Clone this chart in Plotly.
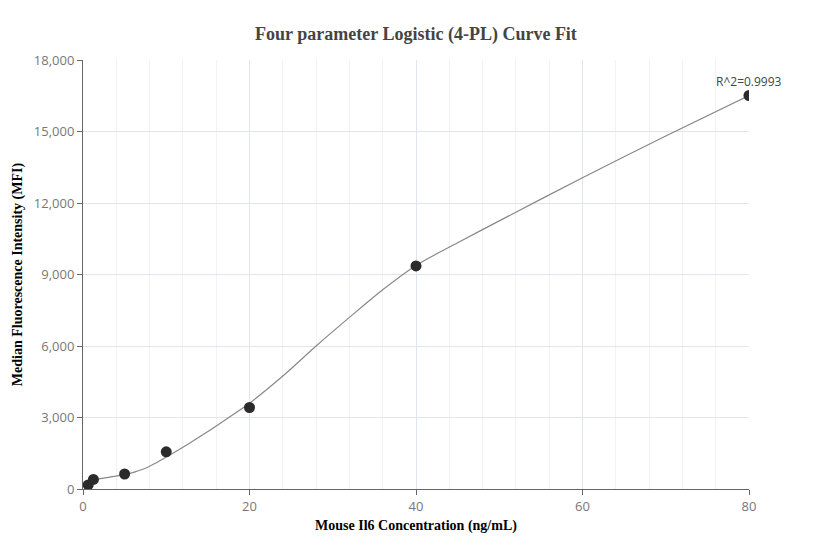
import plotly.graph_objs as go

# Measured standards
conc = [0.625, 1.25, 5, 10, 20, 40, 80]
mfi = [170, 400, 630, 1560, 3420, 9360, 16510]

# Fitted 4-PL curve
curve_x = [0.625, 1.25, 2.5, 5, 6.25, 7.5, 8.75, 10, 12.5, 15, 17.5, 20, 24, 28, 32, 36, 40, 45, 50, 60, 70, 80]
curve_y = [330, 380, 460, 600, 720, 870, 1090, 1340, 1860, 2410, 3000, 3600, 4740, 6000, 7200, 8360, 9380, 10330, 11250, 13060, 14810, 16510]

r2_text = "R^2=0.9993"
title_text = "Four parameter Logistic (4-PL) Curve Fit"
x_title = "Mouse Il6 Concentration (ng/mL)"
y_title = "Median Fluorescence Intensity (MFI)"

fig = go.Figure()

# fitted curve
fig.add_trace(go.Scatter(
    x=curve_x, y=curve_y,
    mode='lines',
    line=dict(color='#888888', width=1.2, shape='spline', smoothing=0.8),
    hoverinfo='skip',
    showlegend=False
))

# data points
fig.add_trace(go.Scatter(
    x=conc, y=mfi,
    mode='markers',
    marker=dict(size=11, color='#2b2b2b'),
    showlegend=False
))

fig.add_annotation(
    x=conc[-1], y=mfi[-1],
    text=r2_text,
    showarrow=False,
    yshift=14,
    font=dict(family='Open Sans', size=12, color='#444444')
)

axis_font = dict(family='Liberation Serif', size=14, color='#000000')

fig.update_layout(
    title=dict(text='<b>' + title_text + '</b>', x=0.5, xref='paper', xanchor='center',
               y=0.955, yanchor='middle',
               font=dict(family='Liberation Serif', size=18, color='#444444')),
    width=832,
    height=560,
    margin=dict(l=75, r=91, t=52, b=79),
    plot_bgcolor='white',
    paper_bgcolor='white',
    xaxis=dict(
        title=dict(text='<b>' + x_title + '</b>', font=axis_font, standoff=6),
        range=[0, 80],
        dtick=20,
        tickformat=',',
        showline=True, linecolor='#666666', linewidth=1,
        ticks='outside', ticklen=5, tickcolor='#666666',
        gridcolor='#dfe4ee',
        minor=dict(dtick=4, showgrid=True, gridcolor='#f0f2f7'),
        zeroline=False,
        tickfont=dict(family='Open Sans', size=13, color='#777777')
    ),
    yaxis=dict(
        title=dict(text='<b>' + y_title + '</b>', font=axis_font, standoff=7),
        automargin=False,
        range=[0, 18000],
        dtick=3000,
        tickformat=',',
        showline=True, linecolor='#666666', linewidth=1,
        ticks='outside', ticklen=5, tickcolor='#666666',
        gridcolor='#dfe4ee',
        zeroline=False,
        tickfont=dict(family='Open Sans', size=13, color='#777777')
    )
)

fig.write_html("out.html")
